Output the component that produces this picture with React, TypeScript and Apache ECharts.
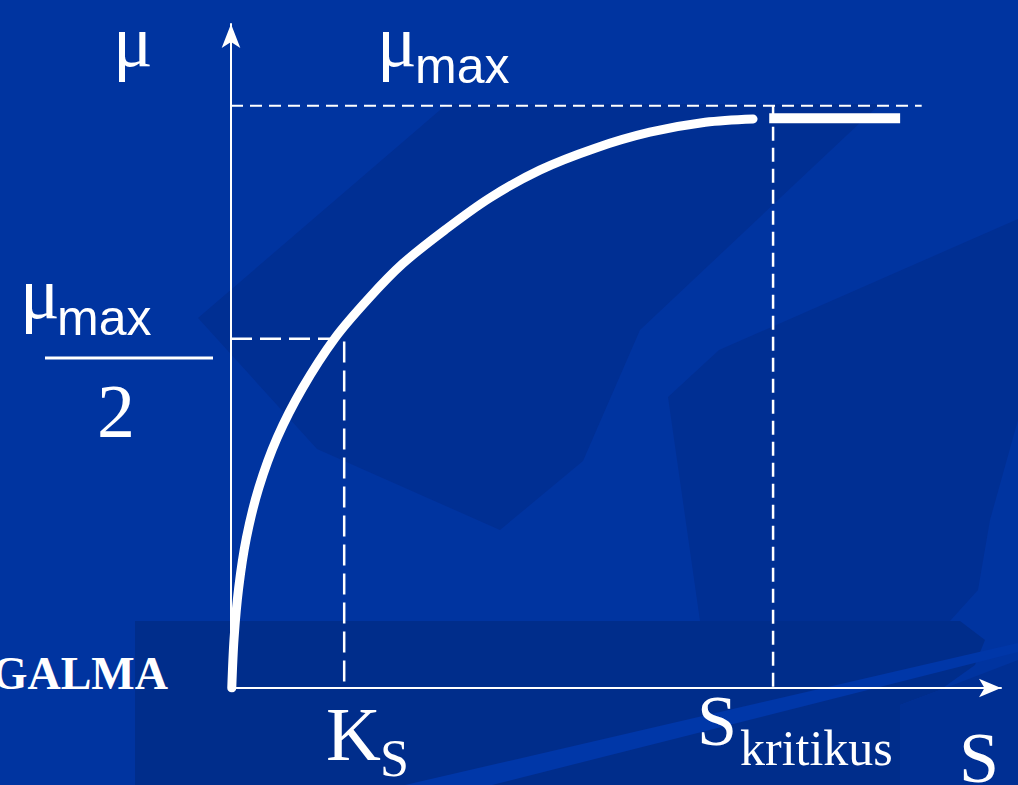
import React, { useEffect, useRef } from "react";
import * as echarts from "echarts";

// Monod growth curve: μ against substrate concentration S (axis units 0–100)
const curveS = [0.1, 0.4, 1.0, 2.0, 3.6, 6.0, 9.3, 13.5, 17.9, 22.3, 27.8, 33.6, 40.1, 47.3, 54.4, 61.6, 67.8];
const curveMu = [0, 7.5, 15.1, 22.6, 30.1, 37.7, 45.2, 52.7, 58.7, 63.9, 69.0, 73.8, 78.0, 81.3, 83.7, 85.2, 85.7];

// flat segment above the critical substrate concentration
const plateauS = [69.9, 86.9];
const plateauMu = 85.8;

// reference levels
const muMax = 87.7;
const muMaxLineEnd = 89.7;
const ks = 14.7;
const halfMuMax = 52.6;
const sKritikus = 70.4;

const WHITE = "#ffffff";
const BASE = "#0034a0";
const DARK = "#002f93";
const BAND = "#002d8b";
const LIGHT = "#0037a8";

export default function App() {
  const ref = useRef<HTMLDivElement>(null);

  useEffect(() => {
    if (!ref.current) return;
    const chart = echarts.init(ref.current, undefined, { renderer: "svg" });

    const serif = "'Liberation Serif', 'Times New Roman', serif";
    const sans = "'Liberation Sans', Arial, sans-serif";

    const txt = (text: string, x: number, y: number, size: number, family: string, extra: any = {}) => ({
      type: "text",
      x,
      y,
      z: 20,
      style: {
        text,
        fill: WHITE,
        font: `${extra.weight || "normal"} ${size}px ${family}`,
        textAlign: extra.align || "left",
        textVerticalAlign: "middle",
        verticalAlign: "middle",
      },
    });

    const poly = (points: number[][], fill: string) => ({
      type: "polygon",
      z: -10,
      shape: { points },
      style: { fill },
      silent: true,
    });

    chart.setOption({
      animation: false,
      backgroundColor: BASE,
      grid: { left: 231, top: 24, width: 770, height: 664 },
      xAxis: {
        type: "value",
        min: 0,
        max: 100,
        axisLine: {
          show: true,
          onZero: false,
          symbol: ["none", "arrow"],
          symbolSize: [14, 22],
          lineStyle: { color: WHITE, width: 2 },
        },
        axisTick: { show: false },
        axisLabel: { show: false },
        splitLine: { show: false },
      },
      yAxis: {
        type: "value",
        min: 0,
        max: 100,
        axisLine: {
          show: true,
          onZero: false,
          symbol: ["none", "arrow"],
          symbolSize: [14, 24],
          lineStyle: { color: WHITE, width: 2 },
        },
        axisTick: { show: false },
        axisLabel: { show: false },
        splitLine: { show: false },
      },
      series: [
        {
          type: "line",
          data: [[0, muMax], [muMaxLineEnd, muMax]],
          symbol: "none",
          lineStyle: { color: WHITE, width: 2, type: [12, 7] },
          z: 3,
        },
        {
          type: "line",
          data: [[0, halfMuMax], [ks, halfMuMax], [ks, 0]],
          symbol: "none",
          lineStyle: { color: WHITE, width: 2.5, type: [21, 8] },
          z: 3,
        },
        {
          type: "line",
          data: [[sKritikus, muMax], [sKritikus, 0]],
          symbol: "none",
          lineStyle: { color: WHITE, width: 2.5, type: [14, 7] },
          z: 3,
        },
        {
          type: "line",
          data: curveS.map((s, i) => [s, curveMu[i]]),
          symbol: "none",
          smooth: 0.33,
          lineStyle: { color: WHITE, width: 9, cap: "round", join: "round" },
          z: 5,
        },
        {
          type: "line",
          data: plateauS.map((s) => [s, plateauMu]),
          symbol: "none",
          lineStyle: { color: WHITE, width: 10, cap: "butt" },
          z: 5,
        },
      ],
      graphic: [
        // background logo shapes
        poly([[198, 318], [447, 104], [880, 104], [640, 330], [583, 461], [500, 530], [317, 449]], DARK),
        poly([[668, 397], [719, 350], [1018, 219], [1018, 420], [990, 520], [978, 590], [950, 621], [700, 621]], DARK),
        poly([[135, 621], [960, 621], [985, 640], [975, 665], [940, 690], [900, 705], [900, 785], [135, 785]], BAND),
        poly([[900, 705], [940, 690], [1018, 660], [1018, 785], [900, 785]], DARK),
        poly([[405, 785], [1018, 643], [1018, 652], [492, 785]], LIGHT),

        // axis symbols
        txt("μ", 113, 41, 74, serif),
        txt("μ", 377, 41, 74, serif),
        txt("max", 415, 66, 50, sans),

        // μmax / 2 on the vertical axis
        txt("μ", 20, 293, 74, serif),
        txt("max", 57, 318, 50, sans),
        {
          type: "line",
          z: 20,
          shape: { x1: 45, y1: 358, x2: 213, y2: 358 },
          style: { stroke: WHITE, lineWidth: 3 },
        },
        txt("2", 116, 411, 76, serif, { align: "center" }),

        // substrate markers
        txt("K", 326, 734, 76, serif),
        txt("S", 380, 758, 52, serif),
        txt("S", 697, 721, 72, serif),
        txt("kritikus", 740, 748, 50, serif),
        txt("S", 959, 758, 72, serif),

        txt("GALMA", 168, 673, 46, serif, { align: "right", weight: "bold" }),
      ],
    });

    return () => chart.dispose();
  }, []);

  return (
    <div
      ref={ref}
      style={{ position: "fixed", left: 0, top: 0, width: 1018, height: 785 }}
    />
  );
}
